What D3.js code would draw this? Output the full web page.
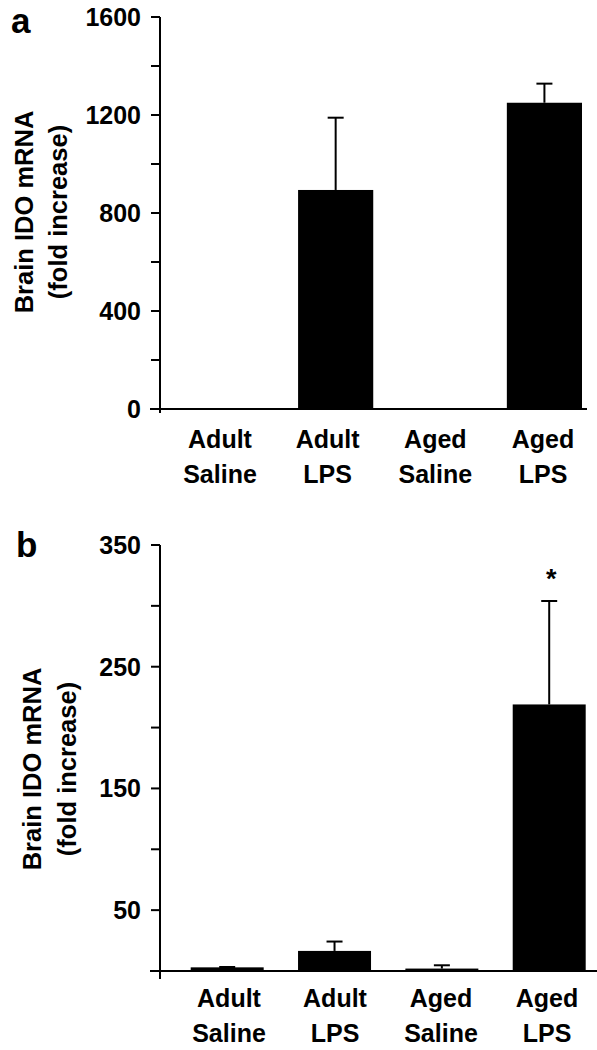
<!DOCTYPE html>
<html>
<head>
<meta charset="utf-8">
<script src="https://cdn.jsdelivr.net/npm/d3@7"></script>
<style>
  html, body { margin: 0; padding: 0; background: #fff; }
  svg { display: block; font-family: "Liberation Sans", Arial, Helvetica, sans-serif; font-weight: bold; }
</style>
</head>
<body>
<svg id="chart" width="597" height="1050"></svg>
<script>
// ---- data ----
const categories = ["Adult Saline", "Adult LPS", "Aged Saline", "Aged LPS"];
const catLine1 = ["Adult", "Adult", "Aged", "Aged"];
const catLine2 = ["Saline", "LPS", "Saline", "LPS"];

const meansA = [1, 894, 1, 1250];
const errA   = [0, 295, 0, 78];
const majorTicksA = [0, 400, 800, 1200, 1600];
const minorTicksA = [200, 600, 1000, 1400];

const meansB = [3, 16.5, 2, 219];
const errB   = [0.3, 7.7, 2.7, 85];
const majorTicksB = [50, 150, 250, 350];
const minorTicksB = [0, 100, 200, 300];
const sigB = ["", "", "", "*"];

const yTitle1 = "Brain IDO mRNA";
const yTitle2 = "(fold increase)";

const svg = d3.select("#chart");

function panel(o) {
  const g = svg.append("g");
  const y = d3.scaleLinear().domain(o.domain).range(o.yRange);
  const x = d3.scaleBand().domain(categories).range(o.xRange).paddingInner(o.pad).paddingOuter(0);
  const xl = d3.scalePoint().domain(categories).range(o.labelRange);
  const ax = o.axisX;

  // panel letter
  g.append("text").attr("x", o.letterX).attr("y", o.letterY)
    .attr("font-size", 35).text(o.letter);

  // y title
  const tg = g.append("g").attr("transform", `translate(${o.titleX},${o.titleY}) rotate(-90)`);
  tg.append("text").attr("text-anchor", "middle").attr("y", 0).attr("font-size", 25.5).text(yTitle1);
  tg.append("text").attr("text-anchor", "middle").attr("y", o.titleGap).attr("font-size", 25.5).text(yTitle2);

  // bars
  g.selectAll("rect.bar").data(categories).enter().append("rect")
    .attr("x", d => x(d)).attr("width", x.bandwidth())
    .attr("y", (d, i) => y(o.means[i]))
    .attr("height", (d, i) => y(0) - y(o.means[i]))
    .attr("fill", "#000");

  // error bars
  categories.forEach((c, i) => {
    if (!o.errs[i]) return;
    const cx = x(c) + x.bandwidth() / 2;
    const top = y(o.means[i] + o.errs[i]);
    g.append("line").attr("x1", cx).attr("x2", cx).attr("y1", y(o.means[i])).attr("y2", top)
      .attr("stroke", "#000").attr("stroke-width", 2);
    g.append("line").attr("x1", cx - 8).attr("x2", cx + 8).attr("y1", top).attr("y2", top)
      .attr("stroke", "#000").attr("stroke-width", 2);
    if (o.sig && o.sig[i]) {
      g.append("text").attr("x", cx + 2).attr("y", top - 13).attr("text-anchor", "middle")
        .attr("font-size", 27).text(o.sig[i]);
    }
  });

  // y axis line
  g.append("line").attr("x1", ax).attr("x2", ax)
    .attr("y1", y(o.domain[1])).attr("y2", y(0) + o.axisExtra)
    .attr("stroke", "#000").attr("stroke-width", 2);
  // ticks
  o.major.concat(o.minor).forEach(t => {
    g.append("line").attr("x1", ax - 9).attr("x2", ax).attr("y1", y(t)).attr("y2", y(t))
      .attr("stroke", "#000").attr("stroke-width", 2);
  });
  o.major.forEach(t => {
    g.append("text").attr("x", ax - 19).attr("y", y(t)).attr("dy", "0.36em")
      .attr("text-anchor", "end").attr("font-size", 25).text(t);
  });
  // x axis line
  g.append("line").attr("x1", ax - 10).attr("x2", o.xAxisEnd).attr("y1", y(0)).attr("y2", y(0))
    .attr("stroke", "#000").attr("stroke-width", 2);

  // category labels
  categories.forEach((c, i) => {
    g.append("text").attr("x", xl(c)).attr("y", o.labY1).attr("text-anchor", "middle")
      .attr("font-size", 25).text(catLine1[i]);
    g.append("text").attr("x", xl(c)).attr("y", o.labY2).attr("text-anchor", "middle")
      .attr("font-size", 25).text(catLine2[i]);
  });
}

panel({
  letter: "a", letterX: 11, letterY: 33,
  domain: [0, 1600], yRange: [409, 17],
  xRange: [193.7, 582], pad: 0.28, labelRange: [220, 543],
  axisX: 160, axisExtra: 4, xAxisEnd: 587,
  means: meansA, errs: errA, major: majorTicksA, minor: minorTicksA,
  titleX: 33, titleY: 212, titleGap: 34,
  labY1: 448, labY2: 483
});

panel({
  letter: "b", letterX: 16, letterY: 557,
  domain: [0, 350], yRange: [971, 545],
  xRange: [190.7, 585.7], pad: 0.32, labelRange: [229, 547],
  axisX: 160, axisExtra: 8, xAxisEnd: 597,
  means: meansB, errs: errB, major: majorTicksB, minor: minorTicksB, sig: sigB,
  titleX: 41, titleY: 769, titleGap: 35,
  labY1: 1007, labY2: 1042
});
</script>
</body>
</html>
